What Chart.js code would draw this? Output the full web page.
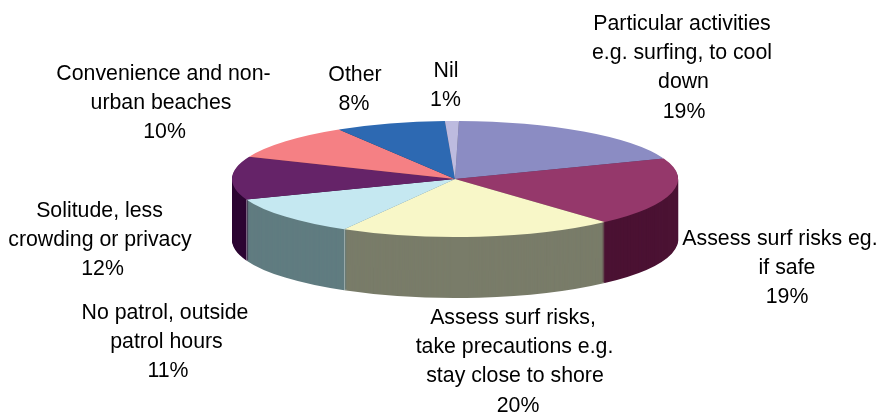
<!DOCTYPE html>
<html>
<head>
<meta charset="utf-8">
<style>
  html, body { margin: 0; padding: 0; background: #fff; }
  canvas { display: block; }
</style>
<script src="https://cdn.jsdelivr.net/npm/chart.js@4/dist/chart.umd.js"></script>
</head>
<body>
<canvas id="pie" width="878" height="413"></canvas>
<script>
const categories = [
    'Particular activities e.g. surfing, to cool down',
    'Assess surf risks eg. if safe',
    'Assess surf risks, take precautions e.g. stay close to shore',
    'No patrol, outside patrol hours',
    'Solitude, less crowding or privacy',
    'Convenience and non-urban beaches',
    'Other',
    'Nil',
];
const shares = [19, 19, 20, 11, 12, 10, 8, 1];
const labelLines = [
    ['Particular activities', 'e.g. surfing, to cool', 'down'],
    ['Assess surf risks eg.', 'if safe'],
    ['Assess surf risks,', 'take precautions e.g.', 'stay close to shore'],
    ['No patrol, outside', 'patrol hours'],
    ['Solitude, less', 'crowding or privacy'],
    ['Convenience and non-', 'urban beaches'],
    ['Other'],
    ['Nil'],
];
const topColors = ['#8b8cc3', '#95386b', '#f8f7c8', '#c5e8f1', '#652368', '#f58084', '#2d69b2', '#bdbbdf'];
const wallColors = ['#46466a', '#4b1233', '#797c69', '#607c80', '#2c0532', '#7b4042', '#16355a', '#5f5e70'];

// centre x of every line in a label block, the percentage line last
const labelCentres = [
    [682, 682, 683.5, 684],
    [780, 787, 787],
    [513, 514.5, 515, 518],
    [165, 166.5, 168],
    [99.5, 100, 102.5],
    [163.5, 161, 164.5],
    [355, 354],
    [446, 445.5],
];
// y of the first line in each block
const labelTops = [24, 239, 318, 313, 211, 74, 75, 71];
const LINE_HEIGHT = 29.3;

const PIE_RADIUS = 223;
const TILT = 58 / 223;   // ellipse height / width of the top face
const DEPTH = 61;

function withTilt(ctx, cx, cy, dy, draw) {
    ctx.save();
    ctx.translate(cx, cy + dy);
    ctx.scale(1, TILT);
    ctx.translate(-cx, -cy);
    draw();
    ctx.restore();
}

// squashes the pie into an ellipse and stacks darker copies below it for the side wall
const tiltedPie = {
    id: 'tiltedPie',
    beforeDatasetDraw(chart, args) {
        const ctx = chart.ctx;
        const arcs = args.meta.data;
        const cx = arcs[0].x;
        const cy = arcs[0].y;
        for (let d = DEPTH; d >= 1; d--) {
            withTilt(ctx, cx, cy, d, () => {
                arcs.forEach((arc, i) => {
                    const top = arc.options;
                    arc.options = Object.assign({}, top, { backgroundColor: wallColors[i] });
                    arc.draw(ctx);
                    arc.options = top;
                });
            });
        }
        // pale seams between the wall panels on the front left
        ctx.save();
        ctx.strokeStyle = 'rgba(255,255,255,0.35)';
        ctx.lineWidth = 1;
        arcs.forEach(arc => {
            const x = cx + Math.cos(arc.endAngle) * PIE_RADIUS;
            const y = cy + Math.sin(arc.endAngle) * PIE_RADIUS * TILT;
            if (x < cx && y > cy + 20) {
                ctx.beginPath();
                ctx.moveTo(Math.round(x) + 0.5, y);
                ctx.lineTo(Math.round(x) + 0.5, y + DEPTH);
                ctx.stroke();
            }
        });
        ctx.restore();
        ctx.save();
        ctx.translate(cx, cy);
        ctx.scale(1, TILT);
        ctx.translate(-cx, -cy);
    },
    afterDatasetDraw(chart) {
        chart.ctx.restore();
    },
    afterDraw(chart) {
        const ctx = chart.ctx;
        ctx.save();
        ctx.fillStyle = '#000';
        ctx.font = '21.3px "Liberation Sans", Arial, sans-serif';
        ctx.textAlign = 'center';
        ctx.textBaseline = 'middle';
        labelLines.forEach((lines, i) => {
            lines.concat(shares[i] + '%').forEach((text, n) => {
                ctx.fillText(text, labelCentres[i][n], labelTops[i] + n * LINE_HEIGHT);
            });
        });
        ctx.restore();
    },
};

new Chart(document.getElementById('pie'), {
    type: 'pie',
    data: {
        labels: categories,
        datasets: [{
            data: shares,
            backgroundColor: topColors,
            borderWidth: 0,
            clip: false,
        }],
    },
    options: {
        responsive: false,
        animation: false,
        radius: PIE_RADIUS,
        rotation: 1,
        // moves the pie centre to (455, 179)
        layout: { padding: { left: 32, bottom: 55 } },
        plugins: {
            legend: { display: false },
            tooltip: { enabled: false },
        },
    },
    plugins: [tiltedPie],
});
</script>
</body>
</html>
